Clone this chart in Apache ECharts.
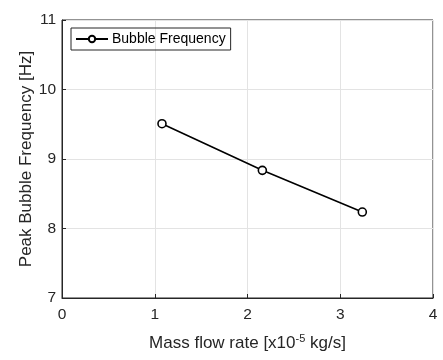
<!DOCTYPE html>
<html><head><meta charset="utf-8">
<script src="https://cdn.jsdelivr.net/npm/echarts@6/dist/echarts.min.js"></script>
<style>html,body{margin:0;padding:0;background:#fff}#c{width:443px;height:360px}</style>
</head><body><div id="c"></div>
<script>
const massFlow = [1.078, 2.16, 3.238];
const peakFreq = [9.508, 8.837, 8.237];
const seriesName = 'Bubble Frequency';
const xTicks = [0, 1, 2, 3, 4];
const yTicks = [7, 8, 9, 10, 11];

const chart = echarts.init(document.getElementById('c'));
const txt = '#262626';
const font = 'Liberation Sans, Arial, sans-serif';
chart.setOption({
  animation: false,
  grid: {left: 62, right: 10, top: 20, bottom: 62, show: true, borderColor: txt, borderWidth: 1},
  legend: {
    left: 71, top: 28, data: [seriesName],
    borderColor: txt, borderWidth: 1, padding: [4, 5, 4, 4],
    itemWidth: 32, itemHeight: 8, itemGap: 4,
    textStyle: {fontFamily: font, fontSize: 14, color: '#000', padding: [0,0,0,-1]}
  },
  xAxis: {
    type: 'value', min: 0, max: 4, interval: 1,
    name: 'Mass flow rate [x10{sup|-5} kg/s]', nameLocation: 'middle', nameGap: 35,
    nameMoveOverlap: false,
    nameTextStyle: {fontFamily: font, fontSize: 17, color: txt,
      rich: {sup: {fontFamily: font, fontSize: 11, color: txt, verticalAlign: 'top', padding: [0,0,9,0]}}},
    axisLine: {show: true, lineStyle: {color: txt}},
    axisTick: {show: true, inside: true, length: 4, lineStyle: {color: txt}},
    axisLabel: {fontFamily: font, fontSize: 15.5, color: txt, margin: 9,
      formatter: v => String(v)},
    splitLine: {show: true, lineStyle: {color: '#e3e3e3'}}
  },
  yAxis: {
    type: 'value', min: 7, max: 11, interval: 1,
    name: 'Peak Bubble Frequency [Hz]', nameLocation: 'middle', nameGap: 27,
    nameMoveOverlap: false,
    nameTextStyle: {fontFamily: font, fontSize: 17, color: txt},
    axisLine: {show: true, lineStyle: {color: txt}},
    axisTick: {show: true, inside: true, length: 4, lineStyle: {color: txt}},
    axisLabel: {fontFamily: font, fontSize: 15.5, color: txt, margin: 6},
    splitLine: {show: true, lineStyle: {color: '#e3e3e3'}}
  },
  series: [{
    name: seriesName, type: 'line',
    data: massFlow.map((x, i) => [x, peakFreq[i]]),
    symbol: 'circle', symbolSize: 8,
    itemStyle: {color: '#fff', borderColor: '#000', borderWidth: 1.6},
    lineStyle: {color: '#000', width: 1.6}
  }]
});
</script></body></html>
